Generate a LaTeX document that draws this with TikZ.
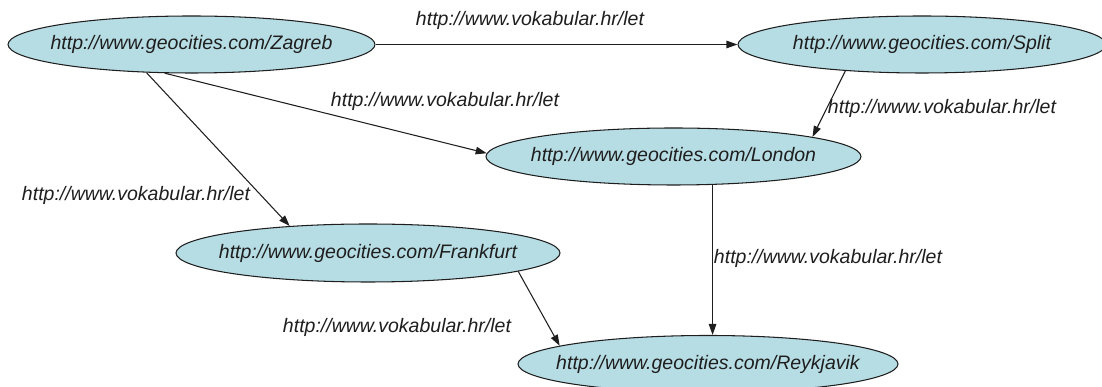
\documentclass[tikz,border=0pt]{standalone}
\usepackage{fontspec}
\setmainfont{Liberation Sans}
\usetikzlibrary{shapes.geometric,arrows.meta}

\definecolor{cityfill}{RGB}{183,221,228}
\definecolor{inkgray}{RGB}{30,30,30}

\tikzset{
    city/.style={ellipse,draw=inkgray,fill=cityfill,line width=0.6pt,inner sep=0pt,
        text=inkgray,font=\fontsize{11.1}{13}\selectfont\itshape},
    rel/.style={inner sep=0pt,text=inkgray,font=\fontsize{11.1}{13}\selectfont\itshape},
    link/.style={draw=inkgray,line width=0.6pt,-{Triangle[length=2.2mm,width=1.5mm]}}
}

\begin{document}
\begin{tikzpicture}
            \useasboundingbox (0, 0) rectangle (22.04, 7.74);

            % places
            \node[city,minimum width=7.34cm,minimum height=1.14cm] (zagreb) at (3.83, 6.85) {\makebox[0pt]{http://www.geocities.com/Zagreb}};
            \node[city,minimum width=7.36cm,minimum height=1.14cm] (split) at (18.44, 6.85) {\makebox[0pt]{http://www.geocities.com/Split}};
            \node[city,minimum width=7.50cm,minimum height=1.14cm] (london) at (13.47, 4.61) {\makebox[0pt]{http://www.geocities.com/London}};
            \node[city,minimum width=7.68cm,minimum height=1.16cm] (frankfurt) at (7.36, 2.68) {\makebox[0pt]{http://www.geocities.com/Frankfurt}};
            \node[city,minimum width=7.60cm,minimum height=1.14cm] (reykjavik) at (14.16, 0.46) {\makebox[0pt]{http://www.geocities.com/Reykjavik}};

            % relations
            \draw[link] (zagreb.east) -- (split.west);
            \draw[link] (zagreb.227) -- (london.179);
            \draw[link] (zagreb.212) -- (frankfurt.161);
            \draw[link] (split.199) -- (london.8);
            \draw[link] (london.-36.6) -- (london.-36.6 |- reykjavik.north);
            \draw[link] (frankfurt.-7.2) -- (reykjavik.173.4);

            \node[rel] (zsLbl) at (10.60, 7.34) {http://www.vokabular.hr/let};
            \node[rel] (zlLbl) at (8.90, 5.72) {http://www.vokabular.hr/let};
            \node[rel] (zfLbl) at (2.72, 3.84) {http://www.vokabular.hr/let};
            \node[rel] (slLbl) at (18.84, 5.58) {http://www.vokabular.hr/let};
            \node[rel] (lrLbl) at (16.56, 2.58) {http://www.vokabular.hr/let};
            \node[rel] (frLbl) at (7.94, 1.20) {http://www.vokabular.hr/let};
        \end{tikzpicture}
\end{document}
